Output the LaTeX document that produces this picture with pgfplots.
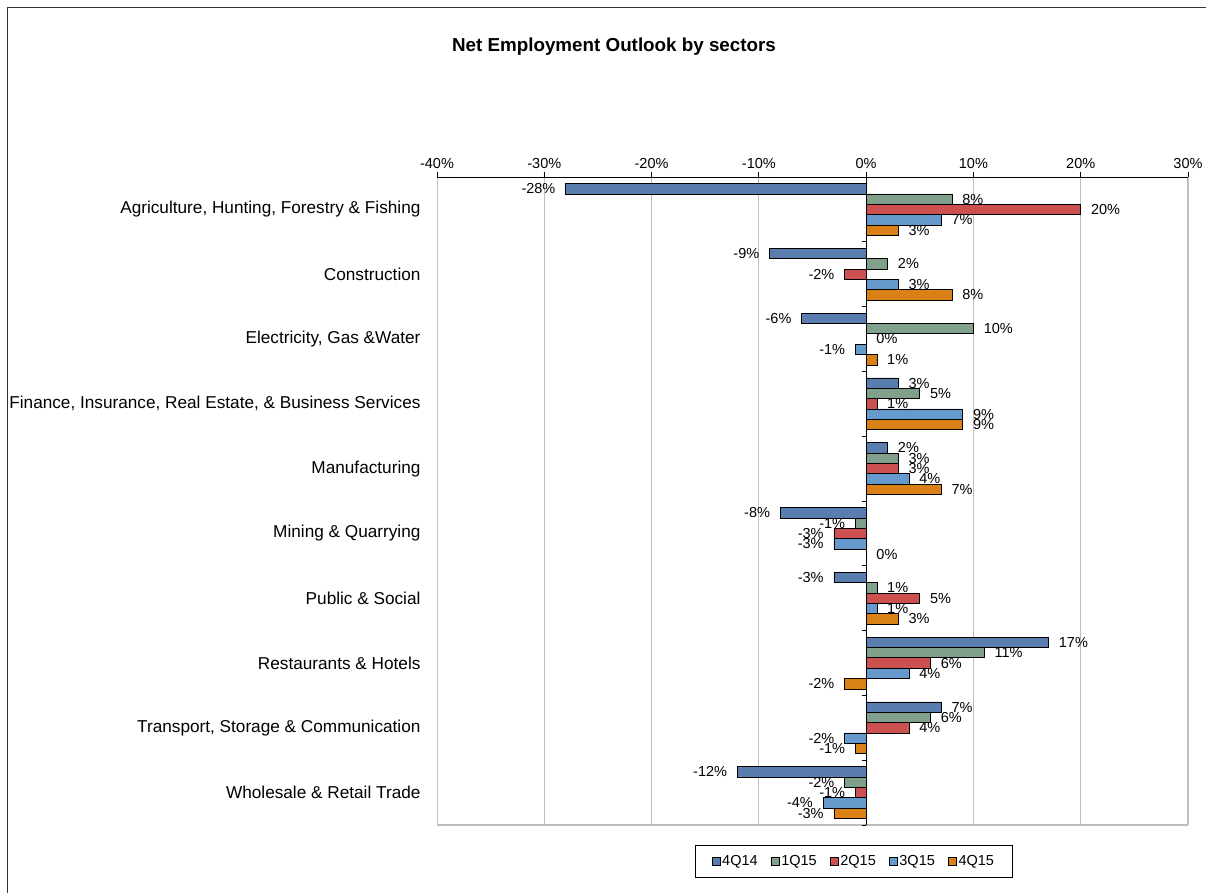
\documentclass[border=0pt]{standalone}
\usepackage{fontspec}
\setmainfont{Liberation Sans}
\usepackage{pgfplots}
\pgfplotsset{compat=1.18}

\definecolor{cA}{RGB}{90,125,175}
\definecolor{cB}{RGB}{128,160,140}
\definecolor{cC}{RGB}{204,80,80}
\definecolor{cD}{RGB}{102,153,204}
\definecolor{cE}{RGB}{217,128,22}
\definecolor{gridgray}{RGB}{190,190,190}

\begin{document}
\begin{tikzpicture}[x=1pt,y=1pt]
\useasboundingbox (0,0) rectangle (1206,-892);
\begin{scope}
  \clip (0,0) rectangle (1206,-892);
  \draw[line width=1.5pt, black!80] (7.5,-7.5) rectangle (1230,-920);
\end{scope}
\node[font=\bfseries\fontsize{18.8}{22}\selectfont] at (614,-47) {Net Employment Outlook by sectors};

\begin{axis}[
    at={(437pt,-177pt)}, anchor=north west,
    scale only axis, width=751pt, height=648pt,
    xbar, bar width=0.16,
    xmin=-40, xmax=30, ymin=-0.5, ymax=9.5,
    xtick={-40,-30,...,30},
    xticklabel={\pgfmathprintnumber[assume math mode=true]{\tick}\%},
    xtick pos=right, xticklabel pos=right,
    tick align=outside, major tick length=5pt,
    ytick={0,...,9},
    yticklabels={Wholesale \& Retail Trade, {Transport, Storage \& Communication}, Restaurants \& Hotels, Public \& Social, Mining \& Quarrying, Manufacturing, {Finance, Insurance,  Real Estate, \& Business Services}, {Electricity, Gas \&Water}, Construction, {Agriculture, Hunting, Forestry \& Fishing}},
    ytick style={draw=none},
    yticklabel style={font=\fontsize{17.2}{20}\selectfont, xshift=-8pt},
    xticklabel style={font=\fontsize{14.5}{17}\selectfont},
    axis line style={draw=none},
    xmajorgrids, grid style={gridgray, line width=0.9pt},
    tick style={black, line width=0.8pt},
    every axis plot/.append style={draw=black, line width=0.7pt},
    point meta=x,
    nodes near coords={\pgfmathprintnumber[assume math mode=true]{\pgfplotspointmeta}\%},
    every node near coord/.append style={font=\fontsize{14.5}{17}\selectfont, black, inner xsep=10pt, inner ysep=0pt},
    legend columns=5,
    legend style={at={(0.555,-0.031)}, anchor=north, draw=black, line width=0.8pt,
        font=\fontsize{14.5}{17}\selectfont, inner xsep=16pt, inner ysep=8pt,
        /tikz/every even column/.append style={column sep=11pt}},
    legend image code/.code={\draw[#1, line width=0.6pt] (0pt,-4pt) rectangle (8pt,4pt);},
]
\addplot[fill=cA, bar shift=0.32] coordinates {
 (-28,9) (-9,8) (-6,7) (3,6) (2,5) (-8,4) (-3,3) (17,2) (7,1) (-12,0)};
\addplot[fill=cB, bar shift=0.16] coordinates {
 (8,9) (2,8) (10,7) (5,6) (3,5) (-1,4) (1,3) (11,2) (6,1) (-2,0)};
\addplot[fill=cC, bar shift=0] coordinates {
 (20,9) (-2,8) (0,7) (1,6) (3,5) (-3,4) (5,3) (6,2) (4,1) (-1,0)};
\addplot[fill=cD, bar shift=-0.16] coordinates {
 (7,9) (3,8) (-1,7) (9,6) (4,5) (-3,4) (1,3) (4,2) (-2,1) (-4,0)};
\addplot[fill=cE, bar shift=-0.32] coordinates {
 (3,9) (8,8) (1,7) (9,6) (7,5) (0,4) (3,3) (-2,2) (-1,1) (-3,0)};
\legend{4Q14,1Q15,2Q15,3Q15,4Q15}
% plot frame: grey sides and bottom, black top and zero line
\draw[gridgray, line width=1.2pt] (axis cs:-40,9.5) -- (axis cs:-40,-0.5) -- (axis cs:30,-0.5) -- (axis cs:30,9.5);
\draw[black, line width=0.9pt] (axis cs:-40,9.5) -- (axis cs:30,9.5);
\draw[black, line width=0.9pt] (axis cs:0,9.5) -- (axis cs:0,-0.5);
\pgfplotsinvokeforeach{-0.5,0.5,1.5,2.5,3.5,4.5,5.5,6.5,7.5,8.5,9.5}{
  \draw[black, line width=0.8pt] (axis cs:0,#1) -- (axis cs:-0.4,#1);
}
\end{axis}
\end{tikzpicture}
\end{document}
